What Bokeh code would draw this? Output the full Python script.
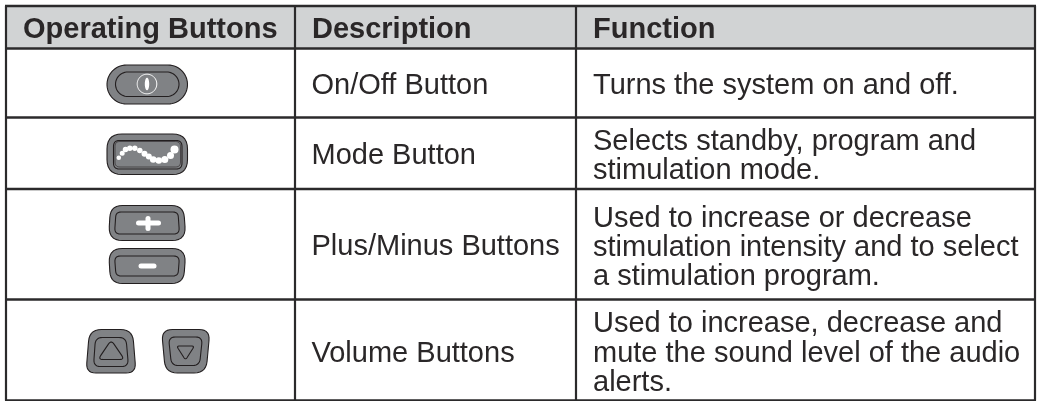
import numpy as np
from bokeh.plotting import figure
from bokeh.models import Range1d
from bokeh.core.properties import value
from bokeh.embed import file_html
from bokeh.resources import INLINE

headers = ["Operating Buttons", "Description", "Function"]
descriptions = ["On/Off Button", "Mode Button", "Plus/Minus Buttons", "Volume Buttons"]
functions = [
    ["Turns the system on and off."],
    ["Selects standby, program and", "stimulation mode."],
    ["Used to increase or decrease", "stimulation intensity and to select", "a stimulation program."],
    ["Used to increase, decrease and", "mute the sound level of the audio", "alerts."],
]

W, H = 1037, 401
INK = "#231f20"; TXT = "#2a2728"; HEAD = "#d1d3d4"; BTN = "#808285"; RULE = "#2b2a2b"
col_x = [5.5, 294.5, 575.5, 1034.5]
row_y = [5.5, 48, 117, 188.5, 299, 400]
# vertical anchors of the text lines
head_mid = 27
desc_mid = [83, 153.5, 244.5, 351]
func_mid = [[83], [139, 168.5], [216, 245, 274], [321.5, 351, 380]]

p = figure(width=W, height=H, x_range=Range1d(0, W), y_range=Range1d(H, 0),
           output_backend="svg", toolbar_location=None, min_border=0,
           x_axis_location=None, y_axis_location=None)
p.grid.visible = False
p.outline_line_color = None
p.background_fill_color = "white"
p.border_fill_color = "white"
p.styles = {"position": "fixed", "left": "0px", "top": "0px"}


def rounded(pts, r, n=8):
    pts = [np.array(q, float) for q in pts]
    rs = r if isinstance(r, (list, tuple)) else [r] * len(pts)
    out = []
    m = len(pts)
    for i in range(m):
        a, b, c = pts[i - 1], pts[i], pts[(i + 1) % m]
        u = (a - b) / np.linalg.norm(a - b)
        v = (c - b) / np.linalg.norm(c - b)
        s, e = b + u * rs[i], b + v * rs[i]
        for t in np.linspace(0, 1, n):
            out.append((1 - t) ** 2 * s + 2 * t * (1 - t) * b + t ** 2 * e)
    out = np.array(out)
    return out[:, 0], out[:, 1]


def shape(pts, r, fill=BTN, lw=1.1, line=INK):
    x, y = rounded(pts, r)
    p.patch(x, y, fill_color=fill, line_color=line, line_width=lw)


def stadium(x0, y0, x1, y1, fill=BTN, lw=1.1):
    h = (y1 - y0) / 2
    t = np.linspace(-np.pi / 2, np.pi / 2, 30)
    x = np.r_[x1 - h + h * np.cos(t), x0 + h - h * np.cos(t)]
    y = np.r_[y0 + h + h * np.sin(t), y0 + h - h * np.sin(t)]
    p.patch(x, y, fill_color=fill, line_color=INK, line_width=lw)


# header band
p.quad(left=col_x[0], right=col_x[3], top=row_y[0], bottom=row_y[1], fill_color=HEAD, line_color=None)

# rules
for y in row_y:
    p.line([col_x[0] - 1, col_x[3] + 1], [y, y], line_color=RULE, line_width=2.4)
for x in col_x:
    p.line([x, x], [row_y[0], row_y[-1]], line_color=RULE, line_width=2.2)

# on/off button
stadium(106.5, 64.5, 187, 103.5)
stadium(115, 71.5, 178.5, 96)
t = np.linspace(0, 2 * np.pi, 60)
p.line(146.5 + 9.8 * np.cos(t), 83.5 + 9.8 * np.sin(t), line_color="white", line_width=1)
p.patch(146.5 + 2.2 * np.cos(t), 83.5 + 6.3 * np.sin(t), fill_color="white", line_color=None)

# mode button
shape([(106.5, 133.5), (187, 133.5), (187, 174), (106.5, 174)], 15)
shape([(113, 140), (181.5, 140), (181.5, 168.5), (113, 168.5)], 6)
shape([(114.5, 141), (180, 141), (180, 166.5), (114.5, 166.5)], 5, lw=0.6)
dx = [118.3, 121.7, 125, 129.3, 134.3, 139.3, 144, 148.3, 152.7, 158.3, 164.3, 170, 174]
dy = [157.3, 152.7, 149, 147.7, 147.7, 150, 153.3, 156, 159, 160, 159, 155, 149]
ds = [4.5, 5, 5.5, 5.5, 5.5, 5.5, 6, 6, 6.5, 6.5, 7, 7, 8]
p.scatter(dx, dy, size=ds, fill_color="white", line_color=None)

# plus button
shape([(110, 205), (183, 205), (185.5, 240), (108, 240)], [12, 12, 14, 14])
shape([(115.5, 211.5), (177.5, 211.5), (179, 233.5), (114, 233.5)], [5, 5, 6, 6])
p.line([138, 158], [222.5, 222.5], line_color="white", line_width=5, line_cap="round")
p.line([147.5, 147.5], [218, 228], line_color="white", line_width=5, line_cap="round")

# minus button
shape([(108, 248), (185.5, 248), (183, 283), (110, 283)], [14, 14, 12, 12])
shape([(114, 255.5), (179, 255.5), (177.5, 275.5), (115.5, 275.5)], [6, 6, 5, 5])
p.line([140.5, 153.5], [265.5, 265.5], line_color="white", line_width=5, line_cap="round")

# volume up
shape([(89, 329), (132, 329), (135.5, 372.5), (85.5, 372.5)], [12, 12, 10, 10])
shape([(95, 337), (125.5, 337), (128, 366), (93, 366)], [7, 7, 7, 7])
shape([(110.7, 339.5), (124, 359), (97.5, 359)], [5, 5, 5])

# volume down
shape([(161, 329), (209.5, 329), (205.5, 372.5), (165, 372.5)], [11, 11, 12, 12])
shape([(168, 336.5), (202, 336.5), (199, 365), (171, 365)], [7, 7, 7, 7])
shape([(176, 345.5), (194, 345.5), (185, 359.5)], [3, 3, 3])

FONT = value("Liberation Sans")


def label(x, y, s, size, style="normal", color=TXT):
    p.text([x], [y], text=[s], text_font=FONT, text_font_size=size, text_font_style=style,
           text_color=color, text_baseline="alphabetic", text_align="left")


# header
label(22.5, head_mid, headers[0], "29px", "bold")
label(311.5, head_mid, headers[1], "29px", "bold")
label(592.5, head_mid, headers[2], "29px", "bold")

# body
for s, y in zip(descriptions, desc_mid):
    label(311, y, s, "29px")
for lines, ys in zip(functions, func_mid):
    for s, y in zip(lines, ys):
        label(592.5, y, s, "29px")

open("out.html", "w").write(file_html(p, INLINE))
